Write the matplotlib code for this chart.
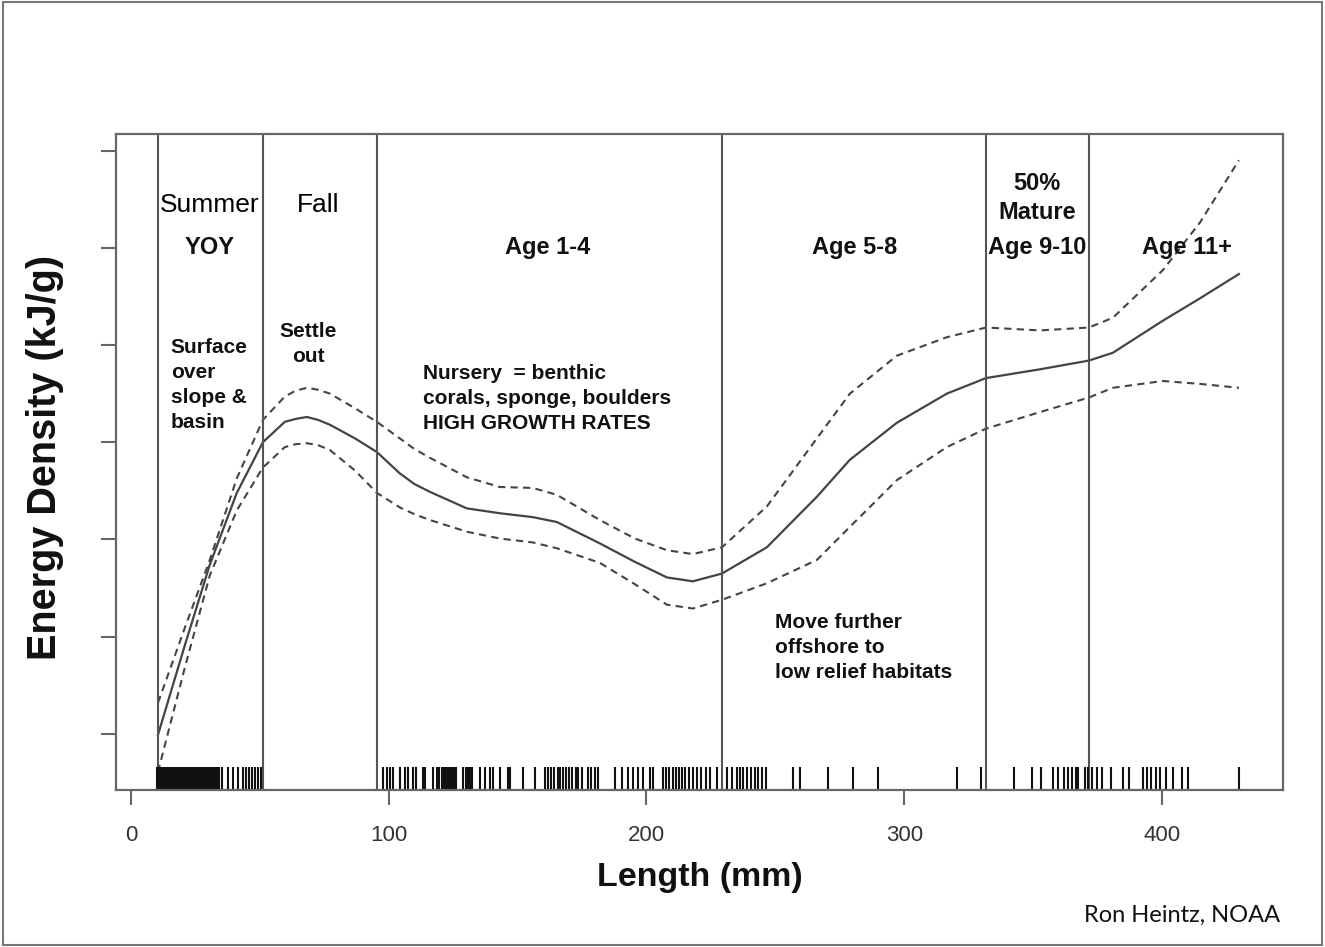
import matplotlib
matplotlib.use("Agg")
import matplotlib.pyplot as plt
from matplotlib.patches import Rectangle

plt.rcParams["font.family"] = ["Liberation Sans", "DejaVu Sans"]

# ── Data ─────────────────────────────────────────────────────────────────────
length_mm = [10.5, 20.9, 30.6, 41.1, 51.2, 59.7, 63.9, 68.3, 72.6, 77.2, 86.9,
             95.4, 104.3, 110.0, 116.0, 130.3, 143.1, 155.9, 165.2, 181.9,
             195.5, 207.9, 218.0, 229.3, 246.7, 266.1, 278.9, 297.1, 316.5,
             331.7, 352.6, 371.6, 380.9, 400.3, 414.7, 429.8]
fit = [0.99, 1.91, 2.74, 3.48, 4.00, 4.21, 4.24, 4.26, 4.23, 4.18, 4.04, 3.90,
       3.68, 3.57, 3.49, 3.32, 3.27, 3.23, 3.18, 2.96, 2.77, 2.61, 2.57, 2.65,
       2.92, 3.44, 3.82, 4.20, 4.50, 4.66, 4.75, 4.84, 4.92, 5.25, 5.48, 5.73]
upper = [1.32, 2.09, 2.79, 3.63, 4.23, 4.47, 4.53, 4.56, 4.54, 4.50, 4.35, 4.21,
         4.04, 3.93, 3.84, 3.64, 3.54, 3.53, 3.46, 3.20, 3.01, 2.89, 2.85, 2.92,
         3.34, 4.04, 4.50, 4.89, 5.08, 5.18, 5.15, 5.18, 5.28, 5.77, 6.26, 6.90]
lower = [0.61, 1.68, 2.63, 3.30, 3.74, 3.95, 3.98, 3.99, 3.97, 3.92, 3.71, 3.48,
         3.33, 3.26, 3.20, 3.08, 3.01, 2.97, 2.91, 2.76, 2.54, 2.33, 2.29, 2.38,
         2.55, 2.79, 3.13, 3.61, 3.95, 4.14, 4.31, 4.46, 4.56, 4.63, 4.60, 4.56]

# observed lengths (rug)
rug_mm = [10.0, 10.5, 11.0, 11.5, 12.0, 12.5, 13.0, 13.5, 14.0, 14.5, 15.0,
          15.5, 16.0, 16.5, 17.0, 17.5, 18.0, 18.5, 19.0, 19.5, 20.0, 20.5,
          21.0, 21.5, 22.0, 22.5, 23.0, 23.5, 24.0, 24.5, 25.0, 25.5, 26.0,
          26.5, 27.0, 27.5, 28.0, 28.5, 29.0, 29.5, 30.0, 30.5, 31.0, 31.5,
          32.0, 32.5, 33.0, 33.5, 34.0, 35.3, 37.6, 39.5, 41.5, 43.4, 44.6,
          45.8, 46.9, 48.1, 49.3, 50.4,
          97.8, 99.3, 100.5, 101.6, 104.3, 106.3, 107.4, 109.4, 110.5, 113.3,
          114.1, 117.1, 118.8, 119.6, 120.5, 121.3, 122.1, 122.9, 123.7, 124.5,
          125.3, 126.2, 128.8, 129.8, 130.6, 131.5, 132.5, 135.4, 137.3, 139.3,
          140.4, 143.1, 146.2, 147.0, 152.1, 156.7, 160.6, 161.8, 163.0, 164.3,
          165.5, 166.4, 167.6, 168.9, 170.1, 171.2, 172.5, 173.6, 174.8, 177.3,
          178.6, 179.9, 181.0, 187.7, 190.5, 192.8, 194.7, 196.7, 198.6, 201.3,
          202.5, 206.4, 207.6, 208.9, 210.1, 211.3, 212.6, 213.8, 215.0, 216.3,
          218.0, 219.7, 221.3, 223.0, 224.6, 227.3, 231.2, 233.0, 235.1, 236.2,
          237.6, 239.1, 240.5, 242.0, 243.4, 244.9, 246.5, 256.8, 259.5, 270.4,
          280.1, 289.8,
          320.3, 329.6, 342.5, 349.4, 352.9, 357.6, 359.6, 361.9, 363.5, 365.1,
          366.7, 367.3, 370.1, 371.2, 372.8, 374.7, 376.6, 380.0, 384.7, 387.1,
          392.6, 394.2, 395.8, 397.5, 399.1, 401.7, 404.2, 407.6, 410.1, 430.0]

# stage boundaries (mm)
stage_breaks = [10.5, 51.2, 95.4, 229.3, 331.7, 371.6]

x_ticks = [0, 100, 200, 300, 400]
y_ticks = [1, 2, 3, 4, 5, 6, 7]

LINE = "#444444"
FRAME = "#666666"

fig = plt.figure(figsize=(13.25, 9.47), dpi=100)
ax = fig.add_axes([0.0875, 0.1658, 0.8808, 0.6927])

# ── Curves ───────────────────────────────────────────────────────────────────
ax.plot(length_mm, fit, color=LINE, lw=1.6)
ax.plot(length_mm, upper, color=LINE, lw=1.5, dashes=(3.5, 2.5))
ax.plot(length_mm, lower, color=LINE, lw=1.5, dashes=(3.5, 2.5))

for b in stage_breaks:
    ax.axvline(b, color="#555555", lw=1.5)

ax.vlines(rug_mm, 0, 0.035, transform=ax.get_xaxis_transform(),
          color="#111111", lw=1.5)

ax.set_xlim(-5.8, 446.9)
ax.set_ylim(0.424, 7.17)
ax.set_xticks(x_ticks)
ax.set_xticklabels([str(t) for t in x_ticks], fontsize=16, color="#333333")
ax.set_yticks(y_ticks)
ax.set_yticklabels([])
ax.tick_params(direction="out", length=11, width=1.5, color=FRAME, pad=14)
for s in ax.spines.values():
    s.set_color(FRAME)
    s.set_linewidth(1.6)

# ── Labels ───────────────────────────────────────────────────────────────────
B = dict(fontweight="bold", color="#111111")
ax.text(30.6, 6.44, "Summer", fontsize=19, ha="center", va="center")
ax.text(72.5, 6.44, "Fall", fontsize=19, ha="center", va="center")
for xm, lab in [(30.6, "YOY"), (161.8, "Age 1-4"), (280.8, "Age 5-8"),
                (351.4, "Age 9-10"), (409.6, "Age 11+")]:
    ax.text(xm, 6.0, lab, fontsize=17, ha="center", va="center", **B)
ax.text(351.4, 6.66, "50%", fontsize=17, ha="center", va="center", **B)
ax.text(351.4, 6.36, "Mature", fontsize=17, ha="center", va="center", **B)

step = 0.257
for i, t in enumerate(["Surface", "over", "slope &", "basin"]):
    ax.text(15.5, 4.97 - i * step, t, fontsize=15, ha="left", va="center", **B)
for i, t in enumerate(["Settle", "out"]):
    ax.text(68.7, 5.14 - i * step, t, fontsize=15, ha="center", va="center", **B)
for i, t in enumerate(["Nursery  = benthic", "corals, sponge, boulders",
                       "HIGH GROWTH RATES"]):
    ax.text(113.3, 4.71 - i * step, t, fontsize=15, ha="left", va="center", **B)
for i, t in enumerate(["Move further", "offshore to", "low relief habitats"]):
    ax.text(249.8, 2.15 - i * step, t, fontsize=15, ha="left", va="center", **B)

fig.text(700 / 1325, 1 - 877 / 947, "Length (mm)", fontsize=24.5,
         fontweight="bold", ha="center", va="center", color="#111111")
fig.text(45 / 1325, 1 - 457 / 947, "Energy Density (kJ/g)", fontsize=28.5,
         fontweight="bold", ha="center", va="center", rotation=90,
         color="#111111")
fig.text(1280 / 1325, 1 - 915 / 947, "Ron Heintz, NOAA", fontsize=17,
         family="Lato", ha="right", va="center", color="#111111")

fig.patches.append(Rectangle((0.002, 0.002), 0.996, 0.996,
                             transform=fig.transFigure, fill=False,
                             ec="#777777", lw=1.5))

fig.savefig("out.png", dpi=100)
